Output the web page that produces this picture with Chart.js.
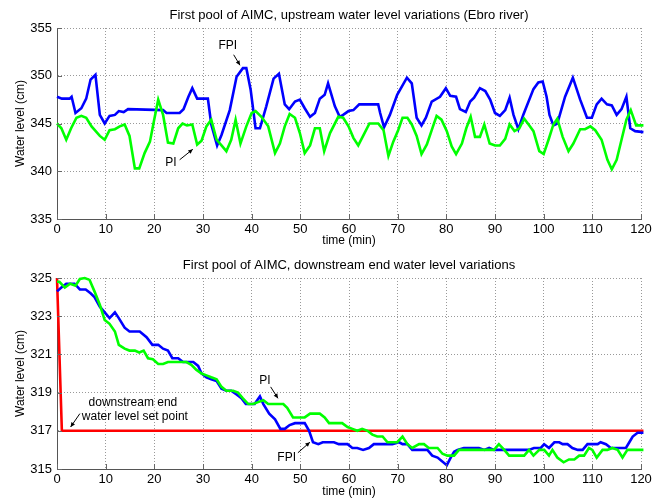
<!DOCTYPE html>
<html>
<head>
<meta charset="utf-8">
<script src="https://cdn.jsdelivr.net/npm/chart.js@4.4.1/dist/chart.umd.min.js"></script>
<style>
    body { margin: 0; background: #fff; }
    canvas { display: block; }
</style>
</head>
<body>
<canvas id="upChart" width="664" height="250"></canvas>
<canvas id="downChart" width="664" height="251"></canvas>
<script>
// upstream (Ebro river) water level, cm
const upFpiTime = [0, 1, 2.6, 3, 3.8, 5, 6, 6.9, 7.9, 8.8, 9.8, 10.8, 11.9, 12.7, 13.7, 14.6, 21.8, 22.5, 25.2, 26, 27, 27.8, 28.8, 31, 31.7, 32.9, 33.8, 35.5, 36.9, 38.2, 38.9, 39.8, 40.8, 41.7, 43, 44.5, 45.6, 46.8, 47.7, 48.9, 49.9, 50.9, 52, 53, 54, 55, 55.7, 57.1, 58.1, 58.8, 59.9, 60.9, 62.1, 66, 66.4, 67.2, 68.4, 69.9, 71.9, 72.9, 73.9, 74.9, 75.8, 77, 78.7, 79.9, 80.8, 82, 82.8, 84, 84.9, 85.7, 86.9, 88, 89, 90, 91, 92.1, 93, 93.8, 94.8, 95.8, 97.9, 98.9, 99.8, 100.6, 101.2, 102, 102.8, 104.4, 106, 107.5, 108.9, 109.9, 110.9, 111.9, 113, 114, 115, 116, 117, 117.8, 118.8, 120.5];
const upFpiLevel = [347.8, 347.6, 347.6, 347.8, 346.1, 346.6, 347.6, 349.6, 350.1, 345.9, 345.0, 345.8, 345.9, 346.3, 346.2, 346.5, 346.4, 346.1, 346.1, 346.5, 347.8, 348.7, 347.6, 347.6, 344.9, 342.7, 343.8, 346.4, 349.9, 350.8, 350.8, 348.5, 344.5, 344.5, 346.8, 349.7, 350.2, 347.0, 346.5, 347.3, 347.5, 346.6, 345.7, 346.1, 347.6, 348.0, 349.2, 346.8, 345.7, 345.9, 346.3, 346.4, 347.0, 347.0, 346.1, 344.6, 345.9, 348.0, 349.8, 349.2, 345.6, 344.8, 345.6, 347.3, 347.8, 348.7, 347.9, 347.8, 346.5, 346.2, 347.3, 347.7, 348.7, 348.4, 347.5, 346.1, 345.8, 346.4, 347.7, 345.9, 344.4, 345.9, 348.6, 349.3, 349.4, 347.8, 345.9, 344.8, 345.0, 347.8, 349.8, 347.5, 345.6, 345.6, 347.0, 347.6, 347.0, 346.9, 345.9, 346.5, 347.8, 344.5, 344.2, 344.1];
const upPiTime = [0, 0.9, 1.9, 2.9, 4, 5, 6, 7.1, 8.8, 9.8, 10.8, 11.9, 12.9, 13.9, 14.9, 16, 16.9, 18, 19.1, 19.9, 20.8, 21.8, 22.8, 23.9, 24.9, 25.8, 26.7, 27.8, 28.8, 29.7, 30.7, 31.7, 32.8, 33.8, 34.8, 35.8, 36.7, 37.7, 38.9, 40, 40.8, 42, 43.4, 44.8, 45.8, 46.8, 47.8, 48.9, 49.9, 50.9, 52, 53, 54, 54.9, 56.1, 57.8, 58.8, 59.9, 60.9, 61.9, 62.9, 64.2, 66, 67.1, 68.1, 69.1, 70.1, 71, 72, 72.9, 73.9, 74.9, 76, 77, 78, 79, 80.1, 81.1, 82, 83.2, 84.1, 85, 85.9, 86.9, 87.8, 88.9, 90, 91, 92.1, 93, 94, 95, 96, 96.9, 97.9, 99.1, 100, 101, 102, 102.8, 103.9, 105.1, 106.1, 107.5, 108.5, 109.6, 110.6, 111.9, 113.1, 114, 115, 116, 117, 117.9, 119, 120.5];
const upPiLevel = [345.0, 344.5, 343.3, 344.5, 345.6, 345.8, 345.6, 344.7, 343.7, 343.3, 344.3, 344.4, 344.7, 344.9, 343.7, 340.3, 340.3, 341.9, 343.1, 345.2, 347.5, 345.9, 343.0, 342.9, 344.5, 345.0, 344.8, 344.9, 342.8, 343.2, 344.7, 345.4, 343.3, 342.7, 342.1, 343.3, 345.4, 342.9, 344.7, 346.1, 346.3, 345.7, 344.7, 341.9, 342.9, 344.7, 346.0, 345.6, 344.0, 341.9, 342.7, 344.5, 344.5, 342.1, 344.0, 345.7, 345.6, 344.7, 343.5, 342.7, 343.7, 345.0, 345.0, 344.3, 341.6, 343.1, 344.3, 345.6, 345.6, 344.9, 343.7, 341.8, 342.8, 344.3, 345.8, 345.4, 344.2, 342.6, 341.8, 342.9, 344.5, 345.7, 343.6, 343.6, 344.9, 342.9, 342.7, 342.7, 343.4, 344.9, 344.2, 344.5, 345.5, 344.9, 344.2, 342.1, 341.8, 343.3, 344.9, 345.5, 343.6, 342.1, 342.9, 344.4, 344.4, 344.7, 344.3, 343.3, 341.2, 340.2, 341.2, 343.3, 345.4, 346.4, 344.8, 344.8];

// downstream end water level, cm
const downSetTime = [0, 1, 120.5];
const downSetLevel = [325, 317, 317];
const downFpiTime = [0, 0.9, 1.9, 3.6, 4.7, 5.9, 6.9, 7.7, 8.8, 9.8, 10.8, 11.9, 12.7, 13.9, 14.9, 17, 18.4, 19.6, 20.8, 21.8, 22.8, 23.7, 24.9, 25.9, 28, 29, 29.7, 30.7, 31.7, 32.8, 33.8, 34.8, 35.8, 36.9, 37.9, 38.8, 40.6, 41.7, 42.4, 43.6, 44.8, 45.9, 46.8, 47.8, 48.9, 50.9, 51.8, 52.6, 53.7, 54.6, 56.9, 57.9, 59.7, 60.7, 61.7, 62.9, 64.1, 65.1, 68.9, 70.3, 71, 72, 73, 76.1, 77.1, 78.2, 80.1, 80.9, 81.6, 82.3, 83.6, 86.7, 87.8, 88.8, 89.8, 97, 98, 99.4, 100.1, 101.1, 102.2, 103.2, 103.9, 104.9, 105.9, 107, 108, 109, 111.1, 111.7, 112.8, 113.8, 116.9, 117.6, 118.3, 119.3, 120.5];
const downFpiLevel = [324.3, 324.5, 324.7, 324.7, 324.4, 324.4, 324.2, 324.0, 323.5, 323.2, 322.9, 323.2, 322.9, 322.4, 322.2, 322.2, 321.9, 321.5, 321.5, 321.3, 321.2, 320.8, 320.8, 320.6, 320.6, 320.4, 320.0, 319.8, 319.7, 319.6, 319.2, 319.1, 319.1, 318.9, 318.7, 318.4, 318.4, 318.8, 318.4, 317.9, 317.6, 317.1, 317.1, 317.3, 317.4, 317.4, 317.0, 316.4, 316.3, 316.4, 316.4, 316.3, 316.3, 316.1, 316.1, 316.0, 316.1, 316.3, 316.3, 316.4, 316.3, 316.3, 316.0, 316.0, 315.7, 315.6, 315.2, 315.6, 315.9, 316.0, 316.1, 316.1, 316.0, 316.1, 316.0, 316.0, 316.1, 316.1, 316.3, 316.1, 316.4, 316.4, 316.3, 316.3, 316.1, 316.0, 316.0, 316.3, 316.3, 316.4, 316.3, 316.1, 316.1, 316.4, 316.7, 316.9, 316.9];
const downPiTime = [0, 0.5, 1.6, 2.7, 3.8, 4.7, 5.7, 6.7, 7.7, 8.8, 9.8, 10.8, 11.9, 12.7, 13.9, 14.9, 16, 16.9, 17.8, 18.7, 19.7, 20.8, 21.8, 22.8, 26.6, 27.6, 28.6, 29.7, 30.7, 31.7, 32.8, 33.8, 34.8, 36.2, 37.2, 38.2, 39.3, 40.3, 41.3, 42.4, 43.4, 46.5, 47.3, 48.5, 50.9, 52, 54, 55, 55.9, 58.6, 59.7, 60.7, 61.7, 62.7, 63.8, 64.8, 65.8, 66.9, 67.9, 69.9, 71, 72, 73, 74.4, 75.4, 76.4, 78.2, 79.2, 80.2, 81.6, 82.6, 89.8, 90.8, 91.9, 92.9, 96, 97, 97.9, 99.1, 100.1, 101.1, 101.8, 102.8, 104.1, 105.2, 106.3, 107.3, 108.3, 109.3, 110, 110.9, 112.1, 113.1, 114.1, 115.2, 116.2, 117.2, 120.5];
const downPiLevel = [324.8, 324.8, 324.5, 324.7, 324.6, 324.95, 325.0, 324.9, 324.3, 323.6, 322.8, 322.6, 322.2, 321.5, 321.3, 321.2, 321.2, 321.1, 321.2, 320.8, 320.75, 320.5, 320.5, 320.6, 320.6, 320.45, 320.2, 320.0, 319.9, 319.8, 319.7, 319.3, 319.1, 319.1, 319.0, 318.7, 318.4, 318.4, 318.5, 318.6, 318.4, 318.4, 318.2, 317.7, 317.7, 317.9, 317.9, 317.7, 317.4, 317.4, 317.2, 317.1, 317.0, 317.1, 317.0, 316.8, 316.7, 316.7, 316.4, 316.4, 316.7, 316.3, 316.1, 316.3, 316.3, 316.1, 316.1, 315.8, 315.7, 315.7, 316.0, 316.0, 316.3, 316.0, 315.7, 315.7, 316.0, 315.7, 316.0, 316.0, 315.7, 316.0, 315.6, 315.35, 315.5, 315.5, 315.7, 315.7, 316.1, 316.0, 315.6, 316.0, 316.0, 316.1, 316.0, 315.6, 316.0, 316.0];

const timeTicks = [0, 10, 20, 30, 40, 50, 60, 70, 80, 90, 100, 110, 120];

// annotation labels, in data units: [text, t, level]
const upLabels = [['FPI', 35.1, 353.1], ['PI', 23.4, 340.9]];
const upArrows = [[36.3, 352.2, 37.6, 351.1], [25.2, 341.2, 27.9, 342.3]];
const downLabels = [['PI', 42.7, 319.6], ['FPI', 47.2, 315.6], ['downstream end', 15.6, 318.46], ['water level set point', 16.0, 317.73]];
const downArrows = [[43.9, 319.3, 45.4, 318.7], [49.5, 315.85, 51.96, 316.4], [4.7, 317.9, 2.8, 317.2]];

const FONT = 'Arial, "Liberation Sans", sans-serif';

function points(times, levels) {
    return times.map((t, i) => ({x: t, y: levels[i]}));
}

function lineSet(label, times, levels, color) {
    return {
        label: label,
        data: points(times, levels),
        borderColor: color,
        backgroundColor: color,
        borderWidth: 2.6,
        pointRadius: 0,
        tension: 0,
        clip: 6
    };
}

// title over the plot area (matlab centres it on the axes, not the figure)
function titlePlugin(text) {
    return {
        id: 'axesTitle',
        afterDraw(chart) {
            const {ctx, chartArea: area} = chart;
            ctx.save();
            ctx.fillStyle = '#000';
            ctx.font = '13px ' + FONT;
            ctx.textAlign = 'center';
            ctx.textBaseline = 'middle';
            ctx.fillText(text, (area.left + area.right) / 2, area.top - 13);
            ctx.restore();
        }
    };
}

function annotationPlugin(labels, arrows) {
    return {
        id: 'notes',
        afterDraw(chart) {
            const {ctx, scales: {x, y}} = chart;
            ctx.save();
            ctx.fillStyle = '#000';
            ctx.strokeStyle = '#000';
            ctx.font = '12px ' + FONT;
            ctx.textAlign = 'center';
            ctx.textBaseline = 'middle';
            labels.forEach(([text, t, v]) => {
                ctx.fillText(text, x.getPixelForValue(t), y.getPixelForValue(v));
            });
            arrows.forEach(([t0, v0, t1, v1]) => {
                const x0 = x.getPixelForValue(t0), y0 = y.getPixelForValue(v0);
                const x1 = x.getPixelForValue(t1), y1 = y.getPixelForValue(v1);
                const a = Math.atan2(y1 - y0, x1 - x0);
                ctx.lineWidth = 1;
                ctx.beginPath();
                ctx.moveTo(x0, y0);
                ctx.lineTo(x1, y1);
                ctx.stroke();
                ctx.beginPath();
                ctx.moveTo(x1, y1);
                ctx.lineTo(x1 - 5 * Math.cos(a - 0.45), y1 - 5 * Math.sin(a - 0.45));
                ctx.lineTo(x1 - 5 * Math.cos(a + 0.45), y1 - 5 * Math.sin(a + 0.45));
                ctx.closePath();
                ctx.fill();
            });
            ctx.restore();
        }
    };
}

// matlab style inward tick marks
const innerTicks = {
    id: 'innerTicks',
    afterDatasetsDraw(chart) {
        const {ctx, chartArea: area, scales: {x, y}} = chart;
        ctx.save();
        ctx.strokeStyle = '#666';
        ctx.lineWidth = 1;
        ctx.beginPath();
        x.ticks.forEach(tk => {
            const px = Math.round(x.getPixelForValue(tk.value)) + 0.5;
            ctx.moveTo(px, area.bottom);
            ctx.lineTo(px, area.bottom - 5);
        });
        y.ticks.forEach(tk => {
            const py = Math.round(y.getPixelForValue(tk.value)) + 0.5;
            ctx.moveTo(area.left, py);
            ctx.lineTo(area.left + 5, py);
        });
        ctx.stroke();
        ctx.restore();
    }
};

function makeOptions(yMin, yMax, yStep, xHeight) {
    return {
        responsive: false,
        animation: false,
        devicePixelRatio: 1,
        layout: {padding: {left: 0, right: 23, top: 28, bottom: 1}},
        plugins: {
            legend: {display: false},
            tooltip: {enabled: false},
            title: {display: false}
        },
        scales: {
            x: {
                type: 'linear',
                min: 0,
                max: 120,
                afterBuildTicks: (scale) => { scale.ticks = timeTicks.map(v => ({value: v})); },
                afterFit: (scale) => { scale.height = xHeight; },
                ticks: {color: '#000', padding: 3, maxRotation: 0, font: {family: FONT, size: 13}},
                grid: {color: '#999', lineWidth: 1, drawTicks: false},
                border: {display: true, color: '#555', width: 1, dash: [1, 2]},
                title: {display: true, text: 'time (min)', color: '#000', padding: {top: 0, bottom: 1}, font: {family: FONT, size: 12}}
            },
            y: {
                type: 'linear',
                min: yMin,
                max: yMax,
                afterFit: (scale) => { scale.width = 57; },
                ticks: {stepSize: yStep, color: '#000', padding: 5, font: {family: FONT, size: 13}},
                grid: {color: '#999', lineWidth: 1, drawTicks: false},
                border: {display: true, color: '#555', width: 1, dash: [1, 2]},
                title: {display: true, text: 'Water level (cm)', color: '#000', padding: {top: 13, bottom: 0}, font: {family: FONT, size: 12}}
            }
        }
    };
}

new Chart(document.getElementById('upChart'), {
    type: 'line',
    data: {
        datasets: [
            lineSet('PI', upPiTime, upPiLevel, '#00ff00'),
            lineSet('FPI', upFpiTime, upFpiLevel, '#0000ff')
        ]
    },
    options: makeOptions(335, 355, 5, 30),
    plugins: [innerTicks, titlePlugin('First pool of AIMC, upstream water level variations (Ebro river)'), annotationPlugin(upLabels, upArrows)]
});

new Chart(document.getElementById('downChart'), {
    type: 'line',
    data: {
        datasets: [
            lineSet('PI', downPiTime, downPiLevel, '#00ff00'),
            lineSet('FPI', downFpiTime, downFpiLevel, '#0000ff'),
            lineSet('set point', downSetTime, downSetLevel, '#ff0000')
        ]
    },
    options: makeOptions(315, 325, 2, 31),
    plugins: [innerTicks, titlePlugin('First pool of AIMC, downstream end water level variations'), annotationPlugin(downLabels, downArrows)]
});
</script>
</body>
</html>
